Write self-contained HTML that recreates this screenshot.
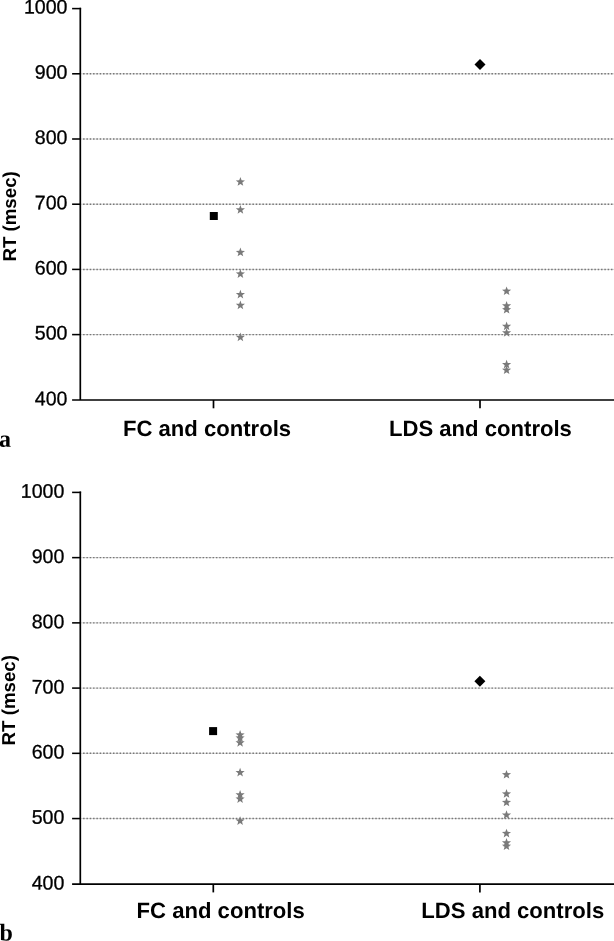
<!DOCTYPE html>
<html><head><meta charset="utf-8"><title>RT chart</title>
<style>html,body{margin:0;padding:0;background:#fff;overflow:hidden}svg{display:block;will-change:transform;text-rendering:geometricPrecision}
.t{font-family:"Liberation Sans",Arial,sans-serif;font-size:19.6px;fill:#000;stroke:#000;stroke-width:0.3px}
.b{font-family:"Liberation Sans",Arial,sans-serif;font-weight:bold;font-size:22.1px;fill:#000}
.r{font-family:"Liberation Sans",Arial,sans-serif;font-weight:bold;font-size:18.7px;fill:#000}
.l{font-family:"Liberation Serif","Times New Roman",serif;font-weight:bold;font-size:24px;fill:#000}
</style></head><body>
<svg width="614" height="941" viewBox="0 0 614 941">
<rect width="614" height="941" fill="#fff"/>
<g stroke="#d4d4d4" stroke-width="1" fill="none">
<line x1="81" y1="334.60" x2="614" y2="334.60"/>
<line x1="81" y1="269.40" x2="614" y2="269.40"/>
<line x1="81" y1="204.20" x2="614" y2="204.20"/>
<line x1="81" y1="139.00" x2="614" y2="139.00"/>
<line x1="81" y1="73.80" x2="614" y2="73.80"/>
</g>
<g stroke="#787878" stroke-width="1.45" stroke-dasharray="1.5 1.82" fill="none">
<line x1="83.1" y1="334.60" x2="614" y2="334.60"/>
<line x1="83.1" y1="269.40" x2="614" y2="269.40"/>
<line x1="83.1" y1="204.20" x2="614" y2="204.20"/>
<line x1="83.1" y1="139.00" x2="614" y2="139.00"/>
<line x1="83.1" y1="73.80" x2="614" y2="73.80"/>
</g>
<g stroke="#000" fill="none">
<path stroke-width="1.55" d="M72.1,8.60 H81.10"/>
<path stroke-width="1.7" d="M80.30,7.82 V400.00"/>
<path stroke-width="1.65" d="M72.1,400.00 H614"/>
<line stroke-width="1.55" x1="72.1" y1="334.60" x2="80.30" y2="334.60"/>
<line stroke-width="1.55" x1="72.1" y1="269.40" x2="80.30" y2="269.40"/>
<line stroke-width="1.55" x1="72.1" y1="204.20" x2="80.30" y2="204.20"/>
<line stroke-width="1.55" x1="72.1" y1="139.00" x2="80.30" y2="139.00"/>
<line stroke-width="1.55" x1="72.1" y1="73.80" x2="80.30" y2="73.80"/>
<line stroke-width="1.7" x1="213.50" y1="400.00" x2="213.50" y2="408.30"/>
<line stroke-width="1.7" x1="480.00" y1="400.00" x2="480.00" y2="408.30"/>
</g>
<text class="t" transform="translate(67.50,405.30) rotate(0.03)" text-anchor="end">400</text>
<text class="t" transform="translate(67.50,339.60) rotate(0.03)" text-anchor="end">500</text>
<text class="t" transform="translate(67.50,274.40) rotate(0.03)" text-anchor="end">600</text>
<text class="t" transform="translate(67.50,209.20) rotate(0.03)" text-anchor="end">700</text>
<text class="t" transform="translate(67.50,144.00) rotate(0.03)" text-anchor="end">800</text>
<text class="t" transform="translate(67.50,78.80) rotate(0.03)" text-anchor="end">900</text>
<text class="t" transform="translate(67.50,13.60) rotate(0.03)" text-anchor="end">1000</text>
<text class="b" transform="translate(122.90,436.00) rotate(0.02)">FC and controls</text>
<text class="b" transform="translate(389.00,436.00) rotate(0.02)">LDS and controls</text>
<text class="r" transform="translate(16.30,261.60) rotate(-90)">RT (msec)</text>
<rect x="209.80" y="212.00" width="8" height="8" fill="#000"/>
<polygon points="474.50,64.50 480.00,59.00 485.50,64.50 480.00,70.00" fill="#000"/>
<g fill="#7a7a7a">
<polygon points="240.40,177.10 241.58,180.27 244.97,180.42 242.32,182.52 243.22,185.78 240.40,183.92 237.58,185.78 238.48,182.52 235.83,180.42 239.22,180.27"/>
<polygon points="240.40,205.00 241.58,208.17 244.97,208.32 242.32,210.42 243.22,213.68 240.40,211.82 237.58,213.68 238.48,210.42 235.83,208.32 239.22,208.17"/>
<polygon points="240.40,247.60 241.58,250.77 244.97,250.92 242.32,253.02 243.22,256.28 240.40,254.42 237.58,256.28 238.48,253.02 235.83,250.92 239.22,250.77"/>
<polygon points="240.40,269.20 241.58,272.37 244.97,272.52 242.32,274.62 243.22,277.88 240.40,276.02 237.58,277.88 238.48,274.62 235.83,272.52 239.22,272.37"/>
<polygon points="240.40,289.80 241.58,292.97 244.97,293.12 242.32,295.22 243.22,298.48 240.40,296.62 237.58,298.48 238.48,295.22 235.83,293.12 239.22,292.97"/>
<polygon points="240.40,300.50 241.58,303.67 244.97,303.82 242.32,305.92 243.22,309.18 240.40,307.32 237.58,309.18 238.48,305.92 235.83,303.82 239.22,303.67"/>
<polygon points="240.40,332.50 241.58,335.67 244.97,335.82 242.32,337.92 243.22,341.18 240.40,339.32 237.58,341.18 238.48,337.92 235.83,335.82 239.22,335.67"/>
<polygon points="506.60,286.40 507.78,289.57 511.17,289.72 508.52,291.82 509.42,295.08 506.60,293.22 503.78,295.08 504.68,291.82 502.03,289.72 505.42,289.57"/>
<polygon points="506.60,301.00 507.78,304.17 511.17,304.32 508.52,306.42 509.42,309.68 506.60,307.82 503.78,309.68 504.68,306.42 502.03,304.32 505.42,304.17"/>
<polygon points="506.60,304.90 507.78,308.07 511.17,308.22 508.52,310.32 509.42,313.58 506.60,311.72 503.78,313.58 504.68,310.32 502.03,308.22 505.42,308.07"/>
<polygon points="506.60,321.50 507.78,324.67 511.17,324.82 508.52,326.92 509.42,330.18 506.60,328.32 503.78,330.18 504.68,326.92 502.03,324.82 505.42,324.67"/>
<polygon points="506.60,328.00 507.78,331.17 511.17,331.32 508.52,333.42 509.42,336.68 506.60,334.82 503.78,336.68 504.68,333.42 502.03,331.32 505.42,331.17"/>
<polygon points="506.60,359.80 507.78,362.97 511.17,363.12 508.52,365.22 509.42,368.48 506.60,366.62 503.78,368.48 504.68,365.22 502.03,363.12 505.42,362.97"/>
<polygon points="506.60,365.40 507.78,368.57 511.17,368.72 508.52,370.82 509.42,374.08 506.60,372.22 503.78,374.08 504.68,370.82 502.03,368.72 505.42,368.57"/>
</g>
<text class="l" transform="translate(-0.90,446.80) rotate(0.03)">a</text>
<g stroke="#d4d4d4" stroke-width="1" fill="none">
<line x1="81" y1="818.57" x2="614" y2="818.57"/>
<line x1="81" y1="753.33" x2="614" y2="753.33"/>
<line x1="81" y1="688.10" x2="614" y2="688.10"/>
<line x1="81" y1="622.87" x2="614" y2="622.87"/>
<line x1="81" y1="557.63" x2="614" y2="557.63"/>
</g>
<g stroke="#787878" stroke-width="1.45" stroke-dasharray="1.5 1.82" fill="none">
<line x1="83.1" y1="818.57" x2="614" y2="818.57"/>
<line x1="83.1" y1="753.33" x2="614" y2="753.33"/>
<line x1="83.1" y1="688.10" x2="614" y2="688.10"/>
<line x1="83.1" y1="622.87" x2="614" y2="622.87"/>
<line x1="83.1" y1="557.63" x2="614" y2="557.63"/>
</g>
<g stroke="#000" fill="none">
<path stroke-width="1.55" d="M72.1,492.40 H81.10"/>
<path stroke-width="1.7" d="M80.30,491.62 V884.10"/>
<path stroke-width="1.65" d="M72.1,884.10 H614"/>
<line stroke-width="1.55" x1="72.1" y1="818.57" x2="80.30" y2="818.57"/>
<line stroke-width="1.55" x1="72.1" y1="753.33" x2="80.30" y2="753.33"/>
<line stroke-width="1.55" x1="72.1" y1="688.10" x2="80.30" y2="688.10"/>
<line stroke-width="1.55" x1="72.1" y1="622.87" x2="80.30" y2="622.87"/>
<line stroke-width="1.55" x1="72.1" y1="557.63" x2="80.30" y2="557.63"/>
<line stroke-width="1.7" x1="213.30" y1="884.10" x2="213.30" y2="892.40"/>
<line stroke-width="1.7" x1="479.90" y1="884.10" x2="479.90" y2="892.40"/>
</g>
<text class="t" transform="translate(64.40,889.60) rotate(0.03)" text-anchor="end">400</text>
<text class="t" transform="translate(64.40,823.87) rotate(0.03)" text-anchor="end">500</text>
<text class="t" transform="translate(64.40,758.63) rotate(0.03)" text-anchor="end">600</text>
<text class="t" transform="translate(64.40,693.40) rotate(0.03)" text-anchor="end">700</text>
<text class="t" transform="translate(64.40,628.17) rotate(0.03)" text-anchor="end">800</text>
<text class="t" transform="translate(64.40,562.93) rotate(0.03)" text-anchor="end">900</text>
<text class="t" transform="translate(64.40,497.70) rotate(0.03)" text-anchor="end">1000</text>
<text class="b" transform="translate(136.60,917.90) rotate(0.02)">FC and controls</text>
<text class="b" transform="translate(421.30,917.90) rotate(0.02)">LDS and controls</text>
<text class="r" transform="translate(15.40,745.40) rotate(-90)">RT (msec)</text>
<rect x="209.10" y="727.10" width="8" height="8" fill="#000"/>
<polygon points="474.40,681.30 479.90,675.80 485.40,681.30 479.90,686.80" fill="#000"/>
<g fill="#7a7a7a">
<polygon points="240.10,730.10 241.28,733.27 244.67,733.42 242.02,735.52 242.92,738.78 240.10,736.92 237.28,738.78 238.18,735.52 235.53,733.42 238.92,733.27"/>
<polygon points="240.10,733.20 241.28,736.37 244.67,736.52 242.02,738.62 242.92,741.88 240.10,740.02 237.28,741.88 238.18,738.62 235.53,736.52 238.92,736.37"/>
<polygon points="240.10,738.00 241.28,741.17 244.67,741.32 242.02,743.42 242.92,746.68 240.10,744.82 237.28,746.68 238.18,743.42 235.53,741.32 238.92,741.17"/>
<polygon points="240.10,767.80 241.28,770.97 244.67,771.12 242.02,773.22 242.92,776.48 240.10,774.62 237.28,776.48 238.18,773.22 235.53,771.12 238.92,770.97"/>
<polygon points="240.10,790.00 241.28,793.17 244.67,793.32 242.02,795.42 242.92,798.68 240.10,796.82 237.28,798.68 238.18,795.42 235.53,793.32 238.92,793.17"/>
<polygon points="240.10,794.30 241.28,797.47 244.67,797.62 242.02,799.72 242.92,802.98 240.10,801.12 237.28,802.98 238.18,799.72 235.53,797.62 238.92,797.47"/>
<polygon points="240.10,816.20 241.28,819.37 244.67,819.52 242.02,821.62 242.92,824.88 240.10,823.02 237.28,824.88 238.18,821.62 235.53,819.52 238.92,819.37"/>
<polygon points="506.50,769.90 507.68,773.07 511.07,773.22 508.42,775.32 509.32,778.58 506.50,776.72 503.68,778.58 504.58,775.32 501.93,773.22 505.32,773.07"/>
<polygon points="506.50,789.10 507.68,792.27 511.07,792.42 508.42,794.52 509.32,797.78 506.50,795.92 503.68,797.78 504.58,794.52 501.93,792.42 505.32,792.27"/>
<polygon points="506.50,797.60 507.68,800.77 511.07,800.92 508.42,803.02 509.32,806.28 506.50,804.42 503.68,806.28 504.58,803.02 501.93,800.92 505.32,800.77"/>
<polygon points="506.50,810.30 507.68,813.47 511.07,813.62 508.42,815.72 509.32,818.98 506.50,817.12 503.68,818.98 504.58,815.72 501.93,813.62 505.32,813.47"/>
<polygon points="506.50,828.70 507.68,831.87 511.07,832.02 508.42,834.12 509.32,837.38 506.50,835.52 503.68,837.38 504.58,834.12 501.93,832.02 505.32,831.87"/>
<polygon points="506.50,838.00 507.68,841.17 511.07,841.32 508.42,843.42 509.32,846.68 506.50,844.82 503.68,846.68 504.58,843.42 501.93,841.32 505.32,841.17"/>
<polygon points="506.50,841.40 507.68,844.57 511.07,844.72 508.42,846.82 509.32,850.08 506.50,848.22 503.68,850.08 504.58,846.82 501.93,844.72 505.32,844.57"/>
</g>
<text class="l" transform="translate(-0.60,940.50) rotate(0.03)">b</text>
</svg>
</body></html>
